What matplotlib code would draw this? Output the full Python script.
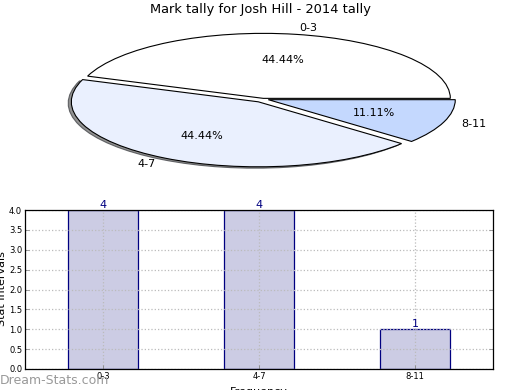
import numpy as np
import matplotlib
matplotlib.use('Agg')
import matplotlib.pyplot as plt
from matplotlib.patches import Shadow

# pie data
pie_labels = ['0-3', '4-7', '8-11']
pie_counts = [4, 4, 1]
pie_colors = ['#ffffff', '#eaf0fe', '#c4d8fe']

# bar data
bar_labels = ['0-3', '4-7', '8-11']
bar_values = [4, 4, 1]
y_ticks = [0.0, 0.5, 1.0, 1.5, 2.0, 2.5, 3.0, 3.5, 4.0]

fig = plt.figure(figsize=(5.2, 3.9), dpi=100)

# squashed pie: aspect stays auto so the circle becomes an ellipse
ax1 = fig.add_axes([29.25/520, 209.75/390, 467.5/520, 162.5/390])
wedges, texts, autotexts = ax1.pie(pie_counts, labels=pie_labels, colors=pie_colors,
                                   autopct='%.2f%%', startangle=0, counterclock=True,
                                   explode=[0.01, 0.05, 0.03],
                                   wedgeprops={'edgecolor': 'black', 'linewidth': 0.8},
                                   textprops={'fontsize': 8})
# shadow only shows on the 4-7 slice
sh = Shadow(wedges[1], -0.012, -0.015, facecolor='#777777', alpha=0.8, zorder=wedges[1].get_zorder() - 0.1)
ax1.add_patch(sh)
ax1.set_aspect('auto')
ax1.set_xlim(-1.25, 1.25)
ax1.set_ylim(-1.25, 1.25)
ax1.axis('off')
fig.text(0.5, 0.975, 'Mark tally for Josh Hill - 2014 tally', ha='center', va='center', fontsize=9.4)

# bar chart
ax2 = fig.add_axes([25/520, 21/390, 468/520, 159/390])
x = np.arange(len(bar_values))
ax2.bar(x, bar_values, width=0.45, color='#ccccE4', edgecolor='navy', linewidth=0.9)
for xi, v in zip(x, bar_values):
    ax2.text(xi, v, str(v), ha='center', va='bottom', color='navy', fontsize=8)
ax2.set_xlim(-0.5, 2.5)
ax2.set_ylim(0, 4)
ax2.set_yticks(y_ticks)
ax2.set_yticklabels(['%.1f' % t for t in y_ticks])
ax2.set_xticks(x)
ax2.set_xticklabels(bar_labels)
ax2.tick_params(axis='both', labelsize=6, direction='in', length=3, width=0.5, pad=2,
                colors='#777777', labelcolor='black')
ax2.tick_params(axis='y', right=True)
ax2.grid(True, linestyle=':', color='#bbbbbb', linewidth=0.9)
for s in ax2.spines.values():
    s.set_linewidth(0.9)

fig.text(2/520, 0.26, 'Stat Intervals', rotation=90, ha='center', va='center', fontsize=8)
fig.text(259/520, -0.005, 'Frequency', ha='center', va='center', fontsize=8)
fig.text(0.0, 10/390, 'Dream-Stats.com', ha='left', va='center', fontsize=9,
         color='#999999')

fig.savefig('out.png', dpi=100)
